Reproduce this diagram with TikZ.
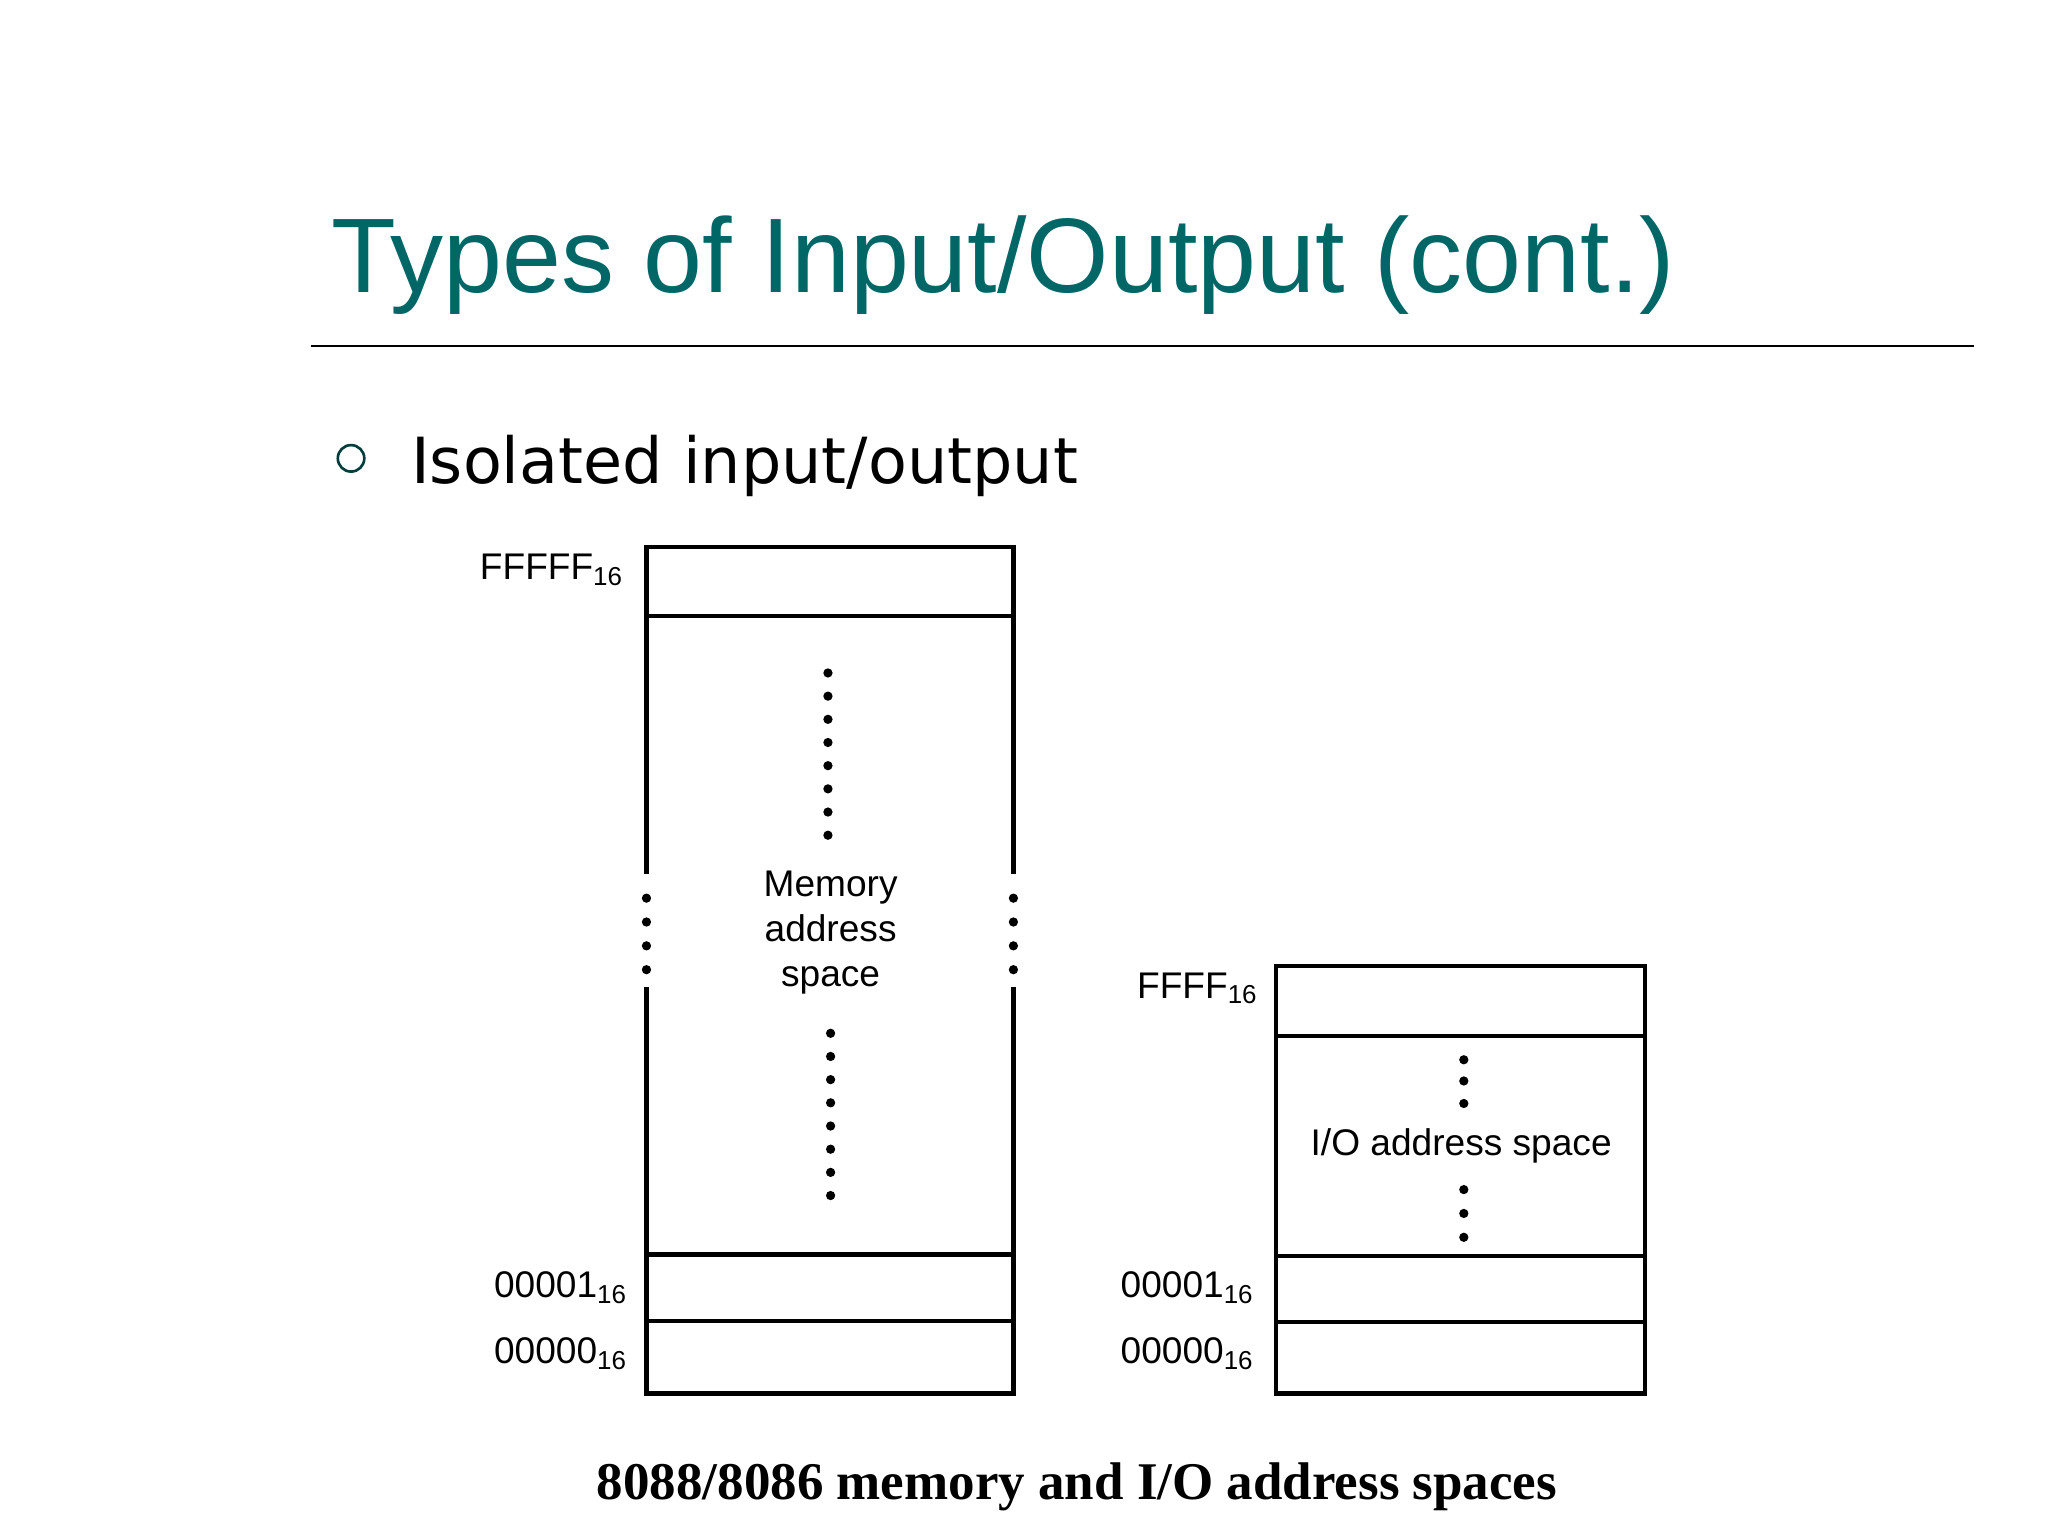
\documentclass[tikz,border=0pt]{standalone}
\usepackage{fontspec}
\setmainfont{Liberation Sans}
\newfontfamily\verd{DejaVu Sans}
\newfontfamily\tms{Liberation Serif}
\begin{document}
\begin{tikzpicture}[x=0.5pt,y=-0.5pt,
  box/.style={line width=1.6pt},
  dot/.style={fill=black,circle,inner sep=0pt,minimum size=3.5pt},
  lab/.style={font=\fontsize{14}{16}\selectfont, anchor=east, inner sep=0pt},
  txt/.style={font=\fontsize{14}{17}\selectfont, align=center, inner sep=0pt}]
\definecolor{teal1}{RGB}{0,102,102}
\useasboundingbox (0,0) rectangle (1546,1160);
\node[anchor=west,text=teal1,font=\fontsize{40}{44}\selectfont,inner sep=0pt] (title) at (250,200) {Types of Input/Output (cont.)};
\draw[line width=0.8pt] (235,261) coordinate (r1) -- (1490,261) coordinate (r2);
\draw[teal1!60!black,line width=1pt] (265,346) circle (10);
\node[anchor=west,font=\verd\fontsize{24}{28}\selectfont,inner sep=0pt] (bul) at (310,352) {Isolated input/output};
% memory box
\draw[box] (488,660) -- (488,413) -- (765,413) -- (765,660);
\draw[box] (488,745) -- (488,1052) -- (765,1052) -- (765,745);
\draw[box] (488,465) -- (765,465);
\draw[box] (488,947) -- (765,947);
\draw[box] (488,997) -- (765,997);
\foreach \y in {678,696,714,732}{\node[dot] at (488,\y){}; \node[dot] at (765,\y){};}
\foreach \i in {0,...,7}{\node[dot] at (625,508+17.5*\i){}; \node[dot] at (627,780+17.5*\i){};}
\node[txt] (mem) at (627,704) {Memory\\address\\space};
\node[lab] (f5) at (471,430) {FFFFF\textsubscript{16}};
\node[lab] (m1) at (474,972) {00001\textsubscript{16}};
\node[lab] (m0) at (474,1022) {00000\textsubscript{16}};
% io box
\draw[box] (963,729) rectangle (1242,1052);
\draw[box] (963,782) -- (1242,782);
\draw[box] (963,948) -- (1242,948);
\draw[box] (963,998) -- (1242,998);
\foreach \y in {800,816,833,898,916,934}{\node[dot] at (1105,\y){};}
\node[txt] (io) at (1103,865) {I/O address space};
\node[lab] (f4) at (950,746) {FFFF\textsubscript{16}};
\node[lab] (i1) at (947,972) {00001\textsubscript{16}};
\node[lab] (i0) at (947,1022) {00000\textsubscript{16}};
\node[font=\tms\bfseries\fontsize{20}{24}\selectfont,inner sep=0pt] (cap) at (813,1122) {8088/8086 memory and I/O address spaces};
\end{tikzpicture}
\end{document}
